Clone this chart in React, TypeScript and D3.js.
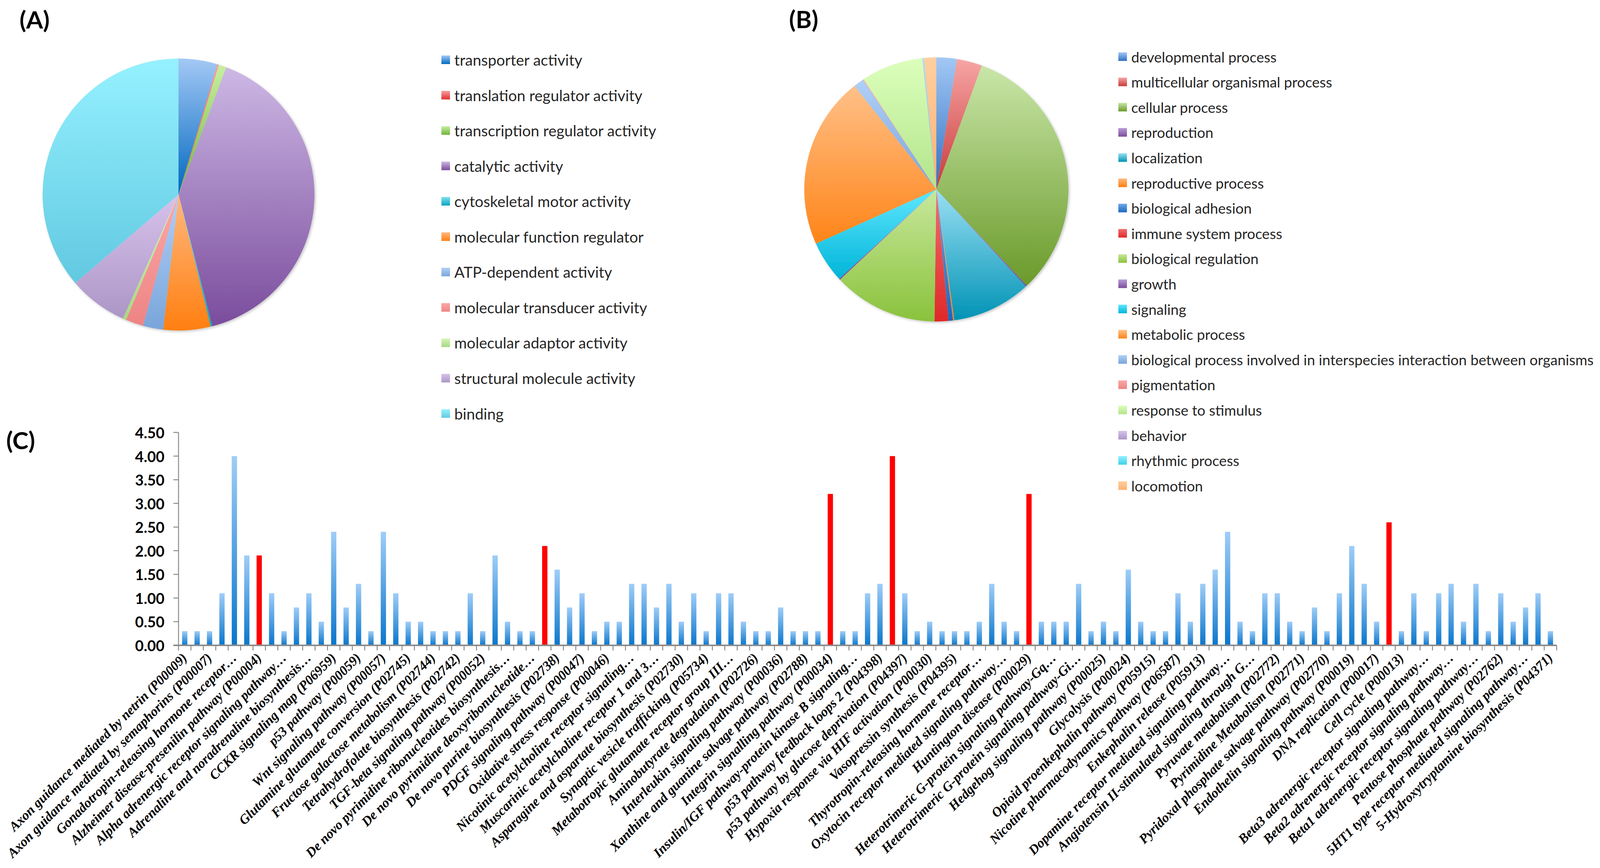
import React from 'react';
import * as d3 from 'd3';

// ---------- DATA ----------
const mfCategories = [
  'transporter activity',
  'translation regulator activity',
  'transcription regulator activity',
  'catalytic activity',
  'cytoskeletal motor activity',
  'molecular function regulator',
  'ATP-dependent activity',
  'molecular transducer activity',
  'molecular adaptor activity',
  'structural molecule activity',
  'binding',
];
const mfShares = [4.6, 0.2, 0.9, 40.2, 0.2, 5.6, 2.4, 2.1, 0.4, 7.0, 36.2];

const bpCategories = [
  'developmental process',
  'multicellular organismal process',
  'cellular process',
  'reproduction',
  'localization',
  'reproductive process',
  'biological adhesion',
  'immune system process',
  'biological regulation',
  'growth',
  'signaling',
  'metabolic process',
  'biological process involved in interspecies interaction between organisms',
  'pigmentation',
  'response to stimulus',
  'behavior',
  'rhythmic process',
  'locomotion',
];
const bpShares = [2.5, 3.1, 32.4, 0.15, 9.7, 0.15, 0.55, 1.7, 12.8, 0.15, 5.1, 21.1, 1.25, 0.1, 7.6, 0.1, 0.1, 1.5];

// labels shown on the axis (every second pathway is labelled)
const pathwayLabels = [
  'Axon guidance mediated by netrin (P00009)',
  'Axon guidance mediated by semaphorins (P00007)',
  'Gonadotropin-releasing hormone receptor…',
  'Alzheimer disease-presenilin pathway (P00004)',
  'Alpha adrenergic receptor signaling pathway…',
  'Adrenaline and noradrenaline biosynthesis…',
  'CCKR signaling map (P06959)',
  'p53 pathway (P00059)',
  'Wnt signaling pathway (P00057)',
  'Glutamine glutamate conversion (P02745)',
  'Fructose galactose metabolism (P02744)',
  'Tetrahydrofolate biosynthesis (P02742)',
  'TGF-beta signaling pathway (P00052)',
  'De novo pyrimidine ribonucleotides biosynthesis…',
  'De novo pyrimidine deoxyribonucleotide…',
  'De novo purine biosynthesis (P02738)',
  'PDGF signaling pathway (P00047)',
  'Oxidative stress response (P00046)',
  'Nicotinic acetylcholine receptor signaling…',
  'Muscarinic acetylcholine receptor 1 and 3…',
  'Asparagine and aspartate biosynthesis (P02730)',
  'Synaptic vesicle trafficking (P05734)',
  'Metabotropic glutamate receptor group III…',
  'Aminobutyrate degradation (P02726)',
  'Interleukin signaling pathway (P00036)',
  'Xanthine and guanine salvage pathway (P02788)',
  'Integrin signalling pathway (P00034)',
  'Insulin/IGF pathway-protein kinase B signaling…',
  'p53 pathway feedback loops 2 (P04398)',
  'p53 pathway by glucose deprivation (P04397)',
  'Hypoxia response via HIF activation (P00030)',
  'Vasopressin synthesis (P04395)',
  'Thyrotropin-releasing hormone receptor…',
  'Oxytocin receptor mediated signaling pathway…',
  'Huntington disease (P00029)',
  'Heterotrimeric G-protein signaling pathway-Gq…',
  'Heterotrimeric G-protein signaling pathway-Gi…',
  'Hedgehog signaling pathway (P00025)',
  'Glycolysis (P00024)',
  'Opioid proenkephalin pathway (P05915)',
  'Nicotine pharmacodynamics pathway (P06587)',
  'Enkephalin release (P05913)',
  'Dopamine receptor mediated signaling pathway…',
  'Angiotensin II-stimulated signaling through G…',
  'Pyruvate metabolism (P02772)',
  'Pyrimidine Metabolism (P02771)',
  'Pyridoxal phosphate salvage pathway (P02770)',
  'Endothelin signaling pathway (P00019)',
  'DNA replication (P00017)',
  'Cell cycle (P00013)',
  'Beta3 adrenergic receptor signaling pathway…',
  'Beta2 adrenergic receptor signaling pathway…',
  'Beta1 adrenergic receptor signaling pathway…',
  'Pentose phosphate pathway (P02762)',
  '5HT1 type receptor mediated signaling pathway…',
  '5-Hydroxytryptamine biosynthesis (P04371)',
];

const enrichment = [
  0.3, 0.3, 0.3, 1.1, 4.0, 1.9, 1.9, 1.1, 0.3, 0.8, 1.1, 0.5, 2.4, 0.8, 1.3, 0.3, 2.4, 1.1, 0.5, 0.5,
  0.3, 0.3, 0.3, 1.1, 0.3, 1.9, 0.5, 0.3, 0.3, 2.1,
  1.6, 0.8, 1.1, 0.3, 0.5, 0.5, 1.3, 1.3, 0.8, 1.3, 0.5, 1.1, 0.3, 1.1, 1.1, 0.5, 0.3, 0.3, 0.8, 0.3,
  0.3, 0.3, 3.2, 0.3, 0.3, 1.1, 1.3, 4.0, 1.1, 0.3, 0.5, 0.3, 0.3, 0.3, 0.5, 1.3, 0.5, 0.3, 3.2, 0.5, 0.5,
  0.5, 1.3, 0.3, 0.5, 0.3, 1.6, 0.5, 0.3, 0.3, 1.1, 0.5, 1.3, 1.6, 2.4, 0.5, 0.3, 1.1, 1.1, 0.5, 0.3,
  0.8, 0.3, 1.1, 2.1, 1.3, 0.5, 2.6, 0.3, 1.1, 0.3, 1.1, 1.3, 0.5, 1.3, 0.3, 1.1, 0.5, 0.8, 1.1, 0.3,
];
const highlightedPathways = [6, 29, 52, 57, 68, 97];
const yDomain = [0, 4.5];

// ---------- STYLE ----------
const mfColors: [string, string][] = [
  ['#a3c8f5', '#0068c0'],
  ['#f7a0a0', '#e03030'],
  ['#c8efa0', '#6fb43a'],
  ['#cdb8e5', '#7a4c9c'],
  ['#7fe0f0', '#0aa5c0'],
  ['#ffb880', '#ff7f10'],
  ['#b0d0f8', '#7aa5da'],
  ['#fba8a8', '#ee8484'],
  ['#d6f5b8', '#a8d880'],
  ['#d7c2ec', '#ac96c6'],
  ['#95f1ff', '#62c9e1'],
];
const bpColors: [string, string][] = [
  ['#a3c8f5', '#2e6fc2'],
  ['#f7a5a5', '#c83a3a'],
  ['#c9e6a8', '#6a9a2a'],
  ['#b89ad8', '#7a4c9c'],
  ['#9adff3', '#0093b5'],
  ['#ffb880', '#ff7f10'],
  ['#6fa8e8', '#1b68c0'],
  ['#f07070', '#e02828'],
  ['#c8e89c', '#8ac23c'],
  ['#b89ad8', '#7a4c9c'],
  ['#5fe6ff', '#00b5d8'],
  ['#ffc088', '#ff8418'],
  ['#b0d0f8', '#7aa5da'],
  ['#fba8a8', '#ee8484'],
  ['#dcffbc', '#b2e48a'],
  ['#d7c2ec', '#ac96c6'],
  ['#8ff0ff', '#40d0ea'],
  ['#ffcfa0', '#ffb070'],
];

const W = 4164;
const H = 2222;
const legendFont = 'Lato, "Liberation Sans", sans-serif';
const labelFont = '"Liberation Serif", "Times New Roman", serif';

function Gradients({ prefix, colors }: { prefix: string; colors: [string, string][] }) {
  return (
    <>
      {colors.map(([a, b], i) => (
        <linearGradient key={i} id={`${prefix}${i}`} x1="0" y1="0" x2="0" y2="1">
          <stop offset="0" stopColor={a} />
          <stop offset="1" stopColor={b} />
        </linearGradient>
      ))}
    </>
  );
}

function Pie({ cx, cy, r, values, prefix }: { cx: number; cy: number; r: number; values: number[]; prefix: string }) {
  const arcs = d3.pie<number>().sort(null).value((d) => d)(values);
  const arcGen = d3.arc<d3.PieArcDatum<number>>().innerRadius(0).outerRadius(r);
  return (
    <g transform={`translate(${cx},${cy})`} filter="url(#pieShadow)">
      {arcs.map((a, i) => (
        <path key={i} d={arcGen(a) || ''} fill={`url(#${prefix}${i})`} />
      ))}
    </g>
  );
}

function Legend({ x, y0, dy, items, prefix, size }: { x: number; y0: number; dy: number; items: string[]; prefix: string; size: number }) {
  return (
    <g>
      {items.map((t, i) => (
        <g key={i} transform={`translate(${x},${y0 + i * dy})`}>
          <rect x={0} y={-11} width={22} height={22} fill={`url(#${prefix}${i})`} />
          <text x={33} y={0} dominantBaseline="central" fontFamily={legendFont} fontSize={size} fill="#262626">
            {t}
          </text>
        </g>
      ))}
    </g>
  );
}

export default function App() {
  const x0 = 457;
  const x1 = 3985;
  const yScale = d3.scaleLinear().domain(yDomain).range([1652, 1107]);
  const xScale = d3
    .scaleBand<number>()
    .domain(d3.range(enrichment.length))
    .range([x0, x1])
    .paddingInner(0.575)
    .paddingOuter(0.2875);
  const step = xScale.step();
  const bw = xScale.bandwidth();
  const fmt = d3.format('.2f');
  const yTicks = yScale.ticks(9);
  const y0 = yScale(0);

  return (
    <div style={{ position: 'absolute', left: 0, top: 0 }}>
      <svg width={W} height={H} viewBox={`0 0 ${W} ${H}`} style={{ display: 'block', background: '#fff' }}>
        <defs>
          <Gradients prefix="mf" colors={mfColors} />
          <Gradients prefix="bp" colors={bpColors} />
          <linearGradient id="barGrad" x1="0" y1="0" x2="0" y2="1">
            <stop offset="0" stopColor="#9fcdf8" />
            <stop offset="1" stopColor="#0a76cc" />
          </linearGradient>
          <filter id="pieShadow" x="-10%" y="-10%" width="120%" height="120%">
            <feDropShadow dx="3" dy="3" stdDeviation="3" floodColor="#000" floodOpacity="0.22" />
          </filter>
        </defs>

        {/* Panel letters */}
        <text x={50} y={73} fontFamily={legendFont} fontWeight={700} fontSize={62}>(A)</text>
        <text x={2020} y={72} fontFamily={legendFont} fontWeight={700} fontSize={62}>(B)</text>
        <text x={16} y={1150} fontFamily={legendFont} fontWeight={700} fontSize={62}>(C)</text>

        {/* Pie A */}
        <Pie cx={457} cy={498} r={348} values={mfShares} prefix="mf" />
        <Legend x={1130} y0={153} dy={90.56} items={mfCategories} prefix="mf" size={39} />

        {/* Pie B */}
        <Pie cx={2397} cy={485} r={338} values={bpShares} prefix="bp" />
        <Legend x={2863} y0={145} dy={64.6} items={bpCategories} prefix="bp" size={37} />

        {/* Bar chart C */}
        <g>
          {enrichment.map((v, i) => (
            <rect
              key={i}
              x={xScale(i)}
              y={yScale(v)}
              width={bw}
              height={y0 - yScale(v)}
              fill={highlightedPathways.includes(i) ? '#ff0000' : 'url(#barGrad)'}
            />
          ))}
          {/* y axis */}
          <line x1={x0} x2={x0} y1={yScale(yDomain[1])} y2={y0} stroke="#8c8c8c" strokeWidth={2.5} />
          {yTicks.map((t) => (
            <g key={t}>
              <line x1={x0 - 13} x2={x0} y1={yScale(t)} y2={yScale(t)} stroke="#8c8c8c" strokeWidth={2.5} />
              <text
                x={x0 - 36}
                y={yScale(t)}
                textAnchor="end"
                dominantBaseline="central"
                fontFamily={legendFont}
                fontWeight={700}
                fontSize={38}
                fill="#000"
              >
                {fmt(t)}
              </text>
            </g>
          ))}
          {/* x axis */}
          <line x1={x0 - 13} x2={x1} y1={y0} y2={y0} stroke="#8c8c8c" strokeWidth={4} />
          {d3.range(enrichment.length + 1).map((k) => (
            <line key={k} x1={x0 + k * step} x2={x0 + k * step} y1={y0} y2={y0 + 13} stroke="#8c8c8c" strokeWidth={2.5} />
          ))}
          {pathwayLabels.map((lab, k) => {
            const i = k * 2;
            const cx = (xScale(i) as number) + bw / 2;
            return (
              <text
                key={k}
                transform={`translate(${cx + 8},${1686}) rotate(-45)`}
                textAnchor="end"
                fontFamily={labelFont}
                fontWeight={700}
                fontStyle="italic"
                fontSize={34.5}
                fill="#000"
              >
                {lab}
              </text>
            );
          })}
        </g>
      </svg>
    </div>
  );
}
